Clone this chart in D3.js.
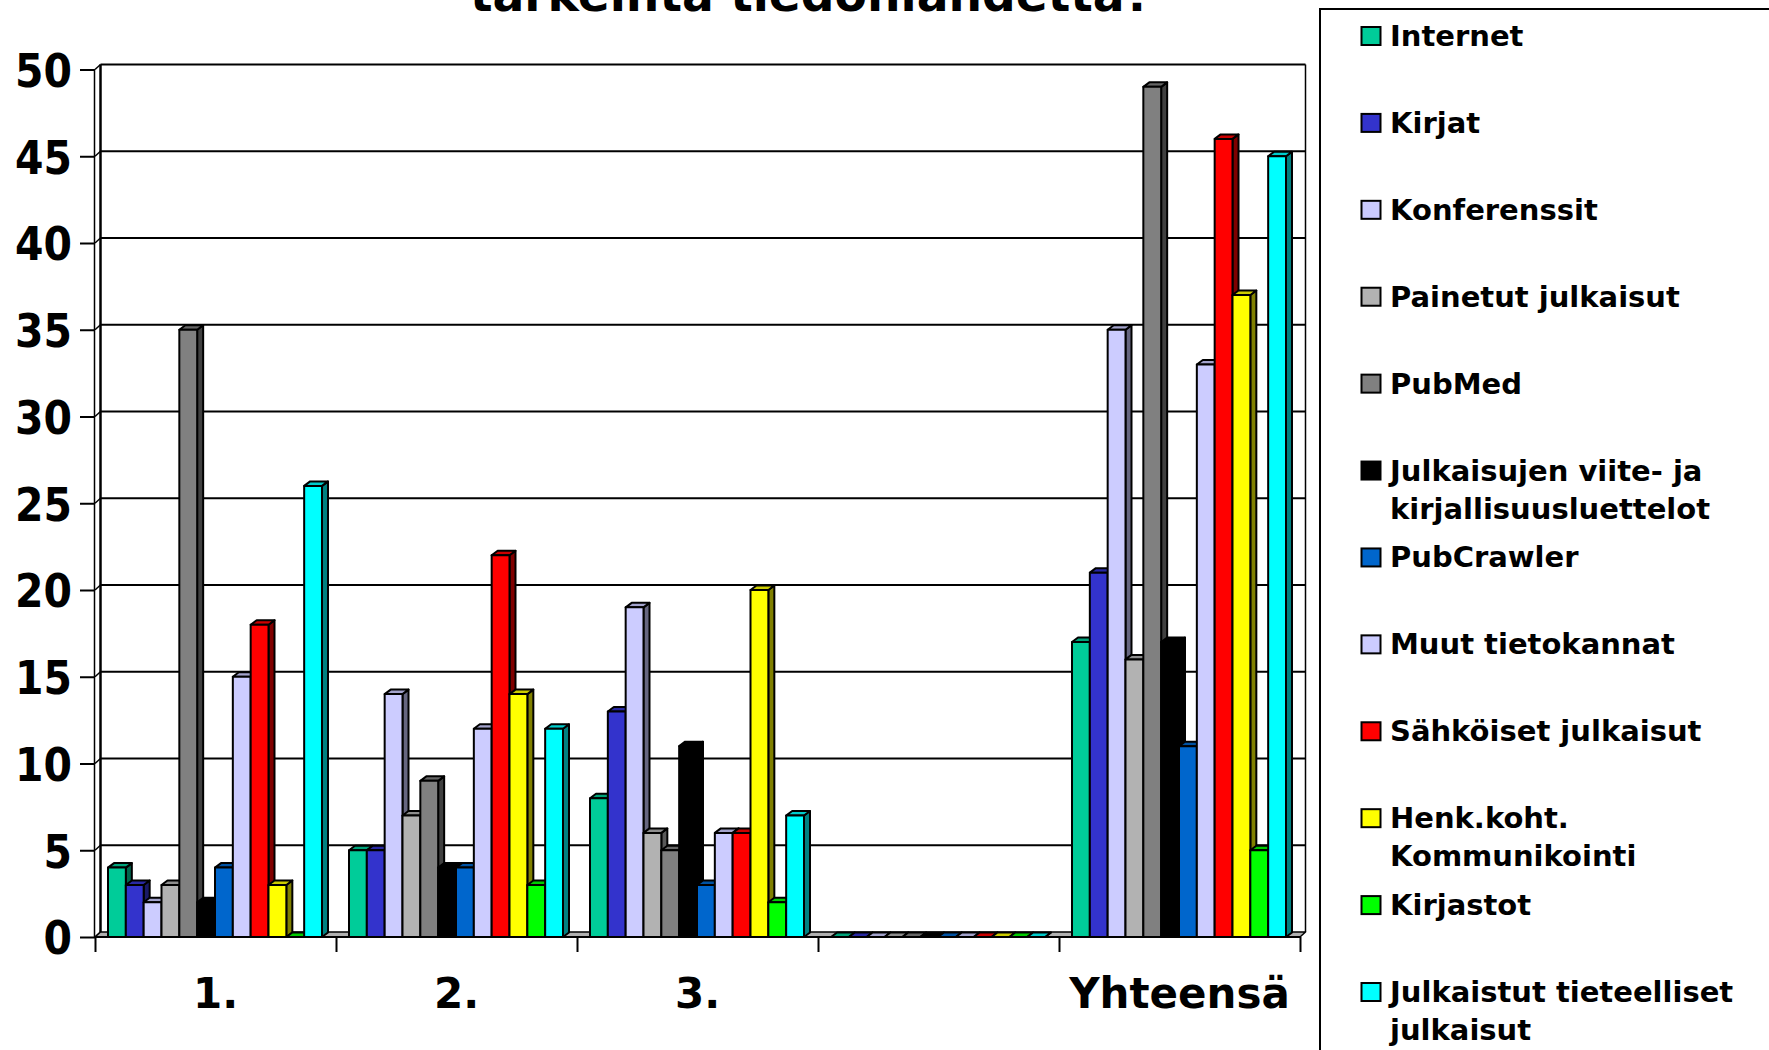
<!DOCTYPE html>
<html>
<head>
<meta charset="utf-8">
<script src="https://cdnjs.cloudflare.com/ajax/libs/d3/7.8.5/d3.min.js"></script>
<style>
  html, body { margin: 0; padding: 0; background: #fff; overflow: hidden; }
  svg { display: block; }
  text { font-family: "DejaVu Sans", Verdana, sans-serif; font-weight: bold; fill: #000; }
</style>
</head>
<body>
<svg id="chart" width="1769" height="1050"></svg>
<script>
// Answers per information source, grouped by rank given by respondents
const categories = ["1.", "2.", "3.", " ", "Yhteensä"];
const seriesNames = [
  "Internet", "Kirjat", "Konferenssit", "Painetut julkaisut", "PubMed",
  "Julkaisujen viite- ja kirjallisuusluettelot", "PubCrawler", "Muut tietokannat",
  "Sähköiset julkaisut", "Henk.koht. Kommunikointi", "Kirjastot",
  "Julkaistut tieteelliset julkaisut"
];
const legendLines = [
  ["Internet"], ["Kirjat"], ["Konferenssit"], ["Painetut julkaisut"], ["PubMed"],
  ["Julkaisujen viite- ja", "kirjallisuusluettelot"], ["PubCrawler"], ["Muut tietokannat"],
  ["Sähköiset julkaisut"], ["Henk.koht.", "Kommunikointi"], ["Kirjastot"],
  ["Julkaistut tieteelliset", "julkaisut"]
];
const seriesColors = [
  "#00cc99", "#3333cc", "#ccccff", "#b2b2b2", "#808080", "#000000",
  "#0066cc", "#ccccff", "#ff0000", "#ffff00", "#00ff00", "#00ffff"
];
const internet     = [4, 5, 8, 0, 17];
const kirjat       = [3, 5, 13, 0, 21];
const konferenssit = [2, 14, 19, 0, 35];
const painetut     = [3, 7, 6, 0, 16];
const pubmed       = [35, 9, 5, 0, 49];
const viitteet     = [2, 4, 11, 0, 17];
const pubcrawler   = [4, 4, 3, 0, 11];
const muut         = [15, 12, 6, 0, 33];
const sahkoiset    = [18, 22, 6, 0, 46];
const henk         = [3, 14, 20, 0, 37];
const kirjastot    = [0, 3, 2, 0, 5];
const julkaistut   = [26, 12, 7, 0, 45];
const seriesValues = [internet, kirjat, konferenssit, painetut, pubmed, viitteet,
                      pubcrawler, muut, sahkoiset, henk, kirjastot, julkaistut];
const yTicks = d3.range(0, 51, 5);
const titleText = "tärkeintä tiedonlähdettä?";

const svg = d3.select("#chart");
const plotLeft = 95, plotRight = 1300, plotBottom = 937, plotTop = 69.5;
const wallDx = 5.5, wallDy = 5;     // depth of the back wall
const barDx = 6, barDy = 4.5;       // depth of a column

const x = d3.scaleBand().domain(categories).range([plotLeft, plotRight]);
const barX = d3.scaleBand().domain(seriesNames).range([13, x.bandwidth() - 14]);
const y = d3.scaleLinear().domain([0, 50]).range([plotBottom, plotTop]);
const shade = (c, k) => { const r = d3.rgb(c); return d3.rgb(r.r * k, r.g * k, r.b * k).formatHex(); };
const poly = pts => pts.map(p => p.join(",")).join(" ");

// Title, running off the top edge of the page
svg.append("text").attr("x", 470).attr("y", 11)
  .attr("font-size", 48).attr("textLength", 682).attr("lengthAdjust", "spacingAndGlyphs")
  .text(titleText);

// Back wall, gridlines and the short diagonals joining them to the front ticks
const wall = svg.append("g").attr("fill", "none").attr("stroke", "#000");
wall.append("line").attr("x1", plotLeft + wallDx).attr("x2", plotLeft + wallDx)
  .attr("y1", y(50) - wallDy).attr("y2", plotBottom - wallDy).attr("stroke-width", 2.5);
wall.append("line").attr("x1", plotLeft - 0.5).attr("x2", plotLeft - 0.5)
  .attr("y1", y(50)).attr("y2", plotBottom).attr("stroke-width", 1.5);
wall.append("line").attr("x1", plotRight + wallDx).attr("x2", plotRight + wallDx)
  .attr("y1", y(50) - wallDy).attr("y2", plotBottom - wallDy).attr("stroke-width", 1.5);
wall.selectAll("line.grid").data(yTicks.filter(v => v > 0)).join("line").attr("class", "grid")
  .attr("x1", plotLeft + wallDx).attr("x2", plotRight + wallDx)
  .attr("y1", d => y(d) - wallDy).attr("y2", d => y(d) - wallDy).attr("stroke-width", 2);
wall.selectAll("line.join").data(yTicks).join("line").attr("class", "join")
  .attr("x1", plotLeft).attr("x2", plotLeft + wallDx)
  .attr("y1", d => y(d)).attr("y2", d => y(d) - wallDy).attr("stroke-width", 1.5);

// Floor
svg.append("polygon")
  .attr("points", poly([[plotLeft, plotBottom], [plotRight, plotBottom], [plotRight + wallDx, plotBottom - wallDy], [plotLeft + wallDx, plotBottom - wallDy]]))
  .attr("fill", "#b0b0b0").attr("stroke", "#000").attr("stroke-width", 1.5).attr("stroke-linejoin", "round");

// Value axis: labels are fitted to the narrow digit width of the chart's face
const yAxis = svg.append("g").attr("transform", `translate(${plotLeft},0)`)
  .call(d3.axisLeft(y).tickValues(yTicks).tickSize(15).tickPadding(8));
yAxis.select(".domain").remove();
yAxis.selectAll(".tick line").attr("stroke", "#000").attr("stroke-width", 2);
yAxis.selectAll(".tick text")
  .attr("font-size", 47).attr("font-family", null)
  .attr("dy", "0.36em")
  .each(function (d) {
    d3.select(this).attr("textLength", d < 10 ? 28.5 : 57).attr("lengthAdjust", "spacingAndGlyphs");
  });

// Three-dimensional columns: later columns overlap the side face of earlier ones
const bars = svg.append("g").attr("stroke", "#000").attr("stroke-width", 2).attr("stroke-linejoin", "round");
categories.forEach((cat, ci) => {
  seriesNames.forEach((name, si) => {
    const v = seriesValues[si][ci];
    const color = seriesColors[si];
    const x0 = x(cat) + barX(name), x1 = x0 + barX.bandwidth();
    const yt = y(v), yb = y(0);
    const g = bars.append("g");
    g.append("polygon").attr("fill", shade(color, 0.5))
      .attr("points", poly([[x1, yb], [x1 + barDx, yb - barDy], [x1 + barDx, yt - barDy], [x1, yt]]));
    g.append("polygon").attr("fill", shade(color, 0.8))
      .attr("points", poly([[x0, yt], [x1, yt], [x1 + barDx, yt - barDy], [x0 + barDx, yt - barDy]]));
    if (v > 0) {
      g.append("rect").attr("x", x0).attr("y", yt).attr("width", x1 - x0).attr("height", yb - yt).attr("fill", color);
    }
  });
});

// Category axis: ticks fall on the band boundaries, labels in the band centres
const xEdges = d3.scaleLinear().domain([0, categories.length]).range([plotLeft, plotRight]);
const xAxis = svg.append("g").attr("transform", `translate(0,${plotBottom})`)
  .call(d3.axisBottom(xEdges).tickValues(d3.range(0, categories.length + 1)).tickSize(15).tickFormat(""));
xAxis.select(".domain").attr("stroke", "#000").attr("stroke-width", 2).attr("d", `M${plotLeft},0H${plotRight}`);
xAxis.selectAll(".tick line").attr("stroke", "#000").attr("stroke-width", 2);
svg.append("g").selectAll("text").data(categories).join("text")
  .attr("x", d => x(d) + x.bandwidth() / 2).attr("y", 1008)
  .attr("text-anchor", "middle").attr("font-size", 42)
  .text(d => d);

// Legend box runs past the right and bottom edges of the page
svg.append("path").attr("d", "M1320,1050V9H1769").attr("fill", "none").attr("stroke", "#000").attr("stroke-width", 2);
const legendY = d3.scaleLinear().domain([0, 11]).range([36, 992]);
const legend = svg.append("g").selectAll("g").data(seriesNames).join("g")
  .attr("transform", (d, i) => `translate(1361,${legendY(i)})`);
legend.append("rect").attr("x", 0.5).attr("y", -9).attr("width", 19).attr("height", 18)
  .attr("fill", (d, i) => seriesColors[i]).attr("stroke", "#000").attr("stroke-width", 2);
legend.each(function (d, i) {
  d3.select(this).selectAll("text").data(legendLines[i]).join("text")
    .attr("x", 29).attr("y", (l, k) => 10 + k * 38)
    .attr("font-size", 29)
    .text(l => l);
});
</script>
</body>
</html>
